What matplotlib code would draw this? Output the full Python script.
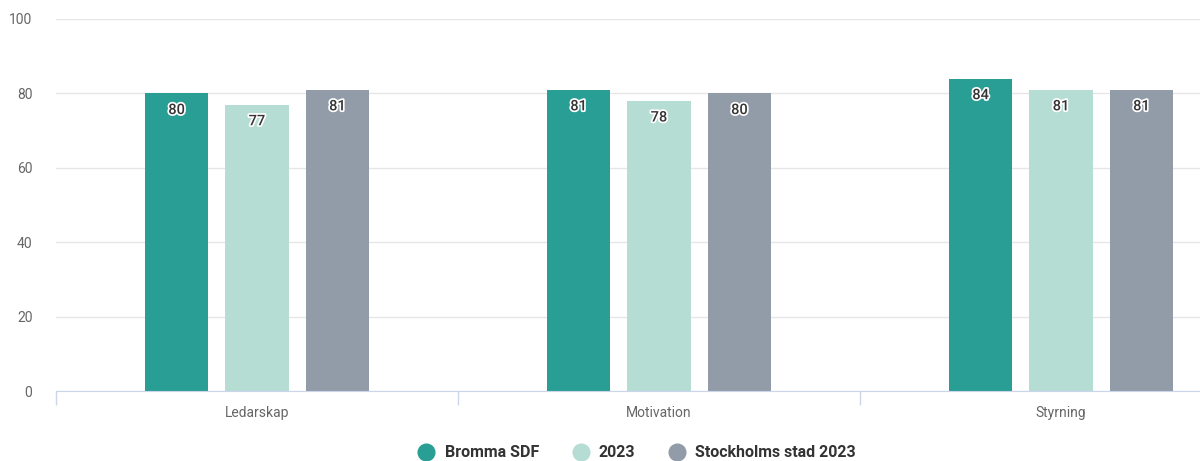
import numpy as np
import matplotlib.pyplot as plt
import matplotlib.patheffects as pe
from matplotlib.lines import Line2D

# data
categories = ["Ledarskap", "Motivation", "Styrning"]
series_names = ["Bromma SDF", "2023", "Stockholms stad 2023"]
bromma = [80, 81, 84]
year_2023 = [77, 78, 81]
stockholm = [81, 80, 81]
colors = ["#289e94", "#b5ddd4", "#919ca8"]

plt.rcParams['font.family'] = ['Roboto', 'DejaVu Sans']

fig = plt.figure(figsize=(12, 4.61), dpi=100)
ax = fig.add_axes([0.0467, 0.1518, 1.005, 0.807])

x = np.arange(len(categories))
width = 0.157
offsets = [-0.2, 0.0, 0.2]

for vals, off, col in zip([bromma, year_2023, stockholm], offsets, colors):
    bars = ax.bar(x + off, vals, width=width, color=col, zorder=3)
    for b, v in zip(bars, vals):
        ax.annotate(f"{v:.0f}", (b.get_x() + b.get_width() / 2, v),
                    xytext=(0, -12), textcoords="offset points",
                    ha="center", va="center", fontsize=10.5, fontweight="medium",
                    color="#333333", zorder=5,
                    path_effects=[pe.withStroke(linewidth=2.5, foreground="white")])

ax.set_xlim(-0.5, 2.5)
ax.set_ylim(0, 100)
ax.set_yticks([0, 20, 40, 60, 80, 100])
ax.yaxis.grid(True, color="#e6e6e6", linewidth=1, zorder=0)
ax.tick_params(axis="y", length=0, pad=17, labelsize=10, labelcolor="#666666")

ax.set_xticks(x)
ax.set_xticklabels(categories)
ax.tick_params(axis="x", which="major", length=0, pad=11, labelsize=10, labelcolor="#666666")
ax.set_xticks([-0.5, 0.5, 1.5, 2.5], minor=True)
ax.tick_params(axis="x", which="minor", length=10, width=1, color="#ccd6eb")

for side in ["top", "right", "left"]:
    ax.spines[side].set_visible(False)
ax.spines["bottom"].set_color("#ccd6eb")
ax.spines["bottom"].set_zorder(4)

handles = [Line2D([0], [0], marker="o", linestyle="", markersize=12,
                  markerfacecolor=c, markeredgecolor=c) for c in colors]
fig.legend(handles, series_names, loc="center", bbox_to_anchor=(0.531, 0.018),
           ncol=3, frameon=False, handletextpad=0.65, handlelength=1.0,
           columnspacing=2.1, prop={"weight": "bold", "size": 11.5},
           labelcolor="#333333")

fig.savefig("out.png", dpi=100)
